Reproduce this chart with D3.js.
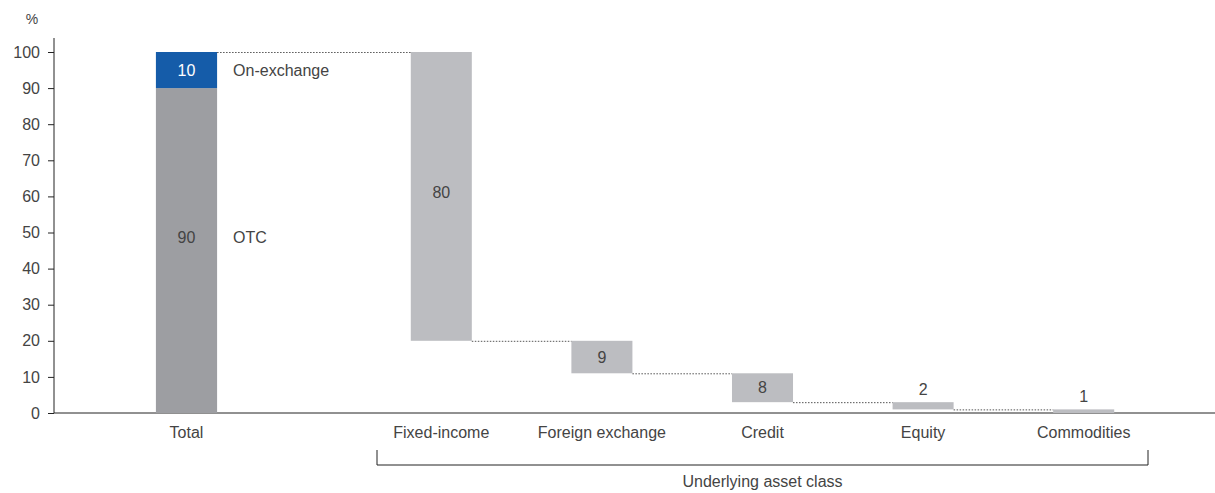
<!DOCTYPE html>
<html>
<head>
<meta charset="utf-8">
<script src="https://cdn.jsdelivr.net/npm/d3@7"></script>
<style>
  html, body { margin: 0; padding: 0; background: #fff; }
  svg { display: block; font-family: 'Liberation Sans', Arial, sans-serif; }
</style>
</head>
<body>
<div id="chart"></div>
<script>
// data
const totalParts = [
  { name: 'OTC', value: 90 },
  { name: 'On-exchange', value: 10 },
];
const assetClasses = ['Fixed-income', 'Foreign exchange', 'Credit', 'Equity', 'Commodities'];
const assetValues = [80, 9, 8, 2, 1];
const yTicks = [0, 10, 20, 30, 40, 50, 60, 70, 80, 90, 100];

const W = 1215;
const H = 493;
const colors = { otc: '#9d9ea2', exch: '#155ca9', asset: '#bcbdc1', text: '#444', axis: '#222' };
const fs = '16px';

const svg = d3.select('#chart').append('svg')
  .attr('width', W)
  .attr('height', H);

// scales
const y = d3.scaleLinear().domain([0, 100]).range([413, 52]);
const xAsset = d3.scaleBand().domain(assetClasses).range([361, 1164])
  .paddingInner(0.62).paddingOuter(0.31);
const xTotal = d3.scaleBand().domain(['Total']).range([106, 267])
  .paddingInner(0.62).paddingOuter(0.31);

// y axis
const yAxis = d3.axisLeft(y).tickValues(yTicks).tickSize(6).tickPadding(8);
const gy = svg.append('g').attr('transform', 'translate(54,0)').call(yAxis);
gy.select('.domain').remove();
gy.selectAll('.tick line').attr('stroke', colors.axis);
gy.selectAll('.tick text').attr('fill', colors.text).style('font-size', fs)
  .style('font-family', "'Liberation Sans', Arial, sans-serif");
svg.append('line')
  .attr('x1', 54).attr('x2', 54).attr('y1', 38).attr('y2', y(0))
  .attr('stroke', colors.axis);
svg.append('text')
  .attr('x', 32).attr('y', 24)
  .attr('text-anchor', 'middle')
  .attr('fill', colors.text).style('font-size', '14px')
  .text('%');

// x baseline
svg.append('line')
  .attr('x1', 54).attr('x2', W).attr('y1', y(0)).attr('y2', y(0))
  .attr('stroke', colors.axis);

// Total stacked bar
let acc = 0;
const stacks = totalParts.map(d => {
  const s = { name: d.name, value: d.value, y0: acc, y1: acc + d.value };
  acc += d.value;
  return s;
});
const tx = xTotal('Total');
const tw = xTotal.bandwidth();
svg.selectAll('rect.total').data(stacks).enter().append('rect')
  .attr('class', 'total')
  .attr('x', tx)
  .attr('width', tw)
  .attr('y', d => y(d.y1))
  .attr('height', d => y(d.y0) - y(d.y1))
  .attr('fill', (d, i) => i === 0 ? colors.otc : colors.exch);
// label position: middle of segment, nudged up for tall segments
const labelY = d => y((d.y0 + d.y1) / 2) - (d.y1 - d.y0 > 50 ? 13 : 0);
svg.selectAll('text.tval').data(stacks).enter().append('text')
  .attr('x', tx + tw / 2)
  .attr('y', labelY)
  .attr('dy', '0.35em')
  .attr('text-anchor', 'middle')
  .attr('fill', (d, i) => i === 0 ? colors.text : '#fff')
  .style('font-size', fs)
  .text(d => d.value);
svg.selectAll('text.tname').data(stacks).enter().append('text')
  .attr('x', tx + tw + 16)
  .attr('y', labelY)
  .attr('dy', '0.35em')
  .attr('fill', colors.text)
  .style('font-size', fs)
  .text(d => d.name);
svg.append('text')
  .attr('x', tx + tw / 2).attr('y', 438)
  .attr('text-anchor', 'middle')
  .attr('fill', colors.text).style('font-size', fs)
  .text('Total');

// waterfall for asset classes
let level = acc;
const steps = assetClasses.map((c, i) => {
  const s = { name: c, value: assetValues[i], hi: level, lo: level - assetValues[i] };
  level -= assetValues[i];
  return s;
});
const bw = xAsset.bandwidth();
svg.selectAll('rect.asset').data(steps).enter().append('rect')
  .attr('class', 'asset')
  .attr('x', d => xAsset(d.name))
  .attr('width', bw)
  .attr('y', d => y(d.hi))
  .attr('height', d => y(d.lo) - y(d.hi))
  .attr('fill', colors.asset);
svg.selectAll('text.aval').data(steps).enter().append('text')
  .attr('x', d => xAsset(d.name) + bw / 2)
  .attr('y', d => (y(d.lo) - y(d.hi) > 20)
    ? y((d.hi + d.lo) / 2) - (d.value > 50 ? 4 : 0)
    : y(d.hi) - 13)
  .attr('dy', '0.35em')
  .attr('text-anchor', 'middle')
  .attr('fill', colors.text).style('font-size', fs)
  .text(d => d.value);
svg.selectAll('text.aname').data(steps).enter().append('text')
  .attr('x', d => xAsset(d.name) + bw / 2)
  .attr('y', 438)
  .attr('text-anchor', 'middle')
  .attr('fill', colors.text).style('font-size', fs)
  .text(d => d.name);

// dotted connectors
const links = [{ x1: tx + tw, x2: xAsset(steps[0].name), v: steps[0].hi }];
steps.slice(1).forEach((d, i) => {
  links.push({ x1: xAsset(steps[i].name) + bw, x2: xAsset(d.name), v: d.hi });
});
svg.selectAll('line.link').data(links).enter().append('line')
  .attr('x1', d => d.x1).attr('x2', d => d.x2)
  .attr('y1', d => y(d.v) + 0.5).attr('y2', d => y(d.v) + 0.5)
  .attr('stroke', '#555')
  .attr('stroke-width', 1)
  .attr('stroke-dasharray', '1.5,1.5');

// bracket
const bx1 = 377;
const bx2 = 1148;
svg.append('path')
  .attr('d', `M${bx1},450V465H${bx2}V450`)
  .attr('fill', 'none')
  .attr('stroke', colors.axis);
svg.append('text')
  .attr('x', (bx1 + bx2) / 2).attr('y', 487)
  .attr('text-anchor', 'middle')
  .attr('fill', colors.text).style('font-size', fs)
  .text('Underlying asset class');
</script>
</body>
</html>
